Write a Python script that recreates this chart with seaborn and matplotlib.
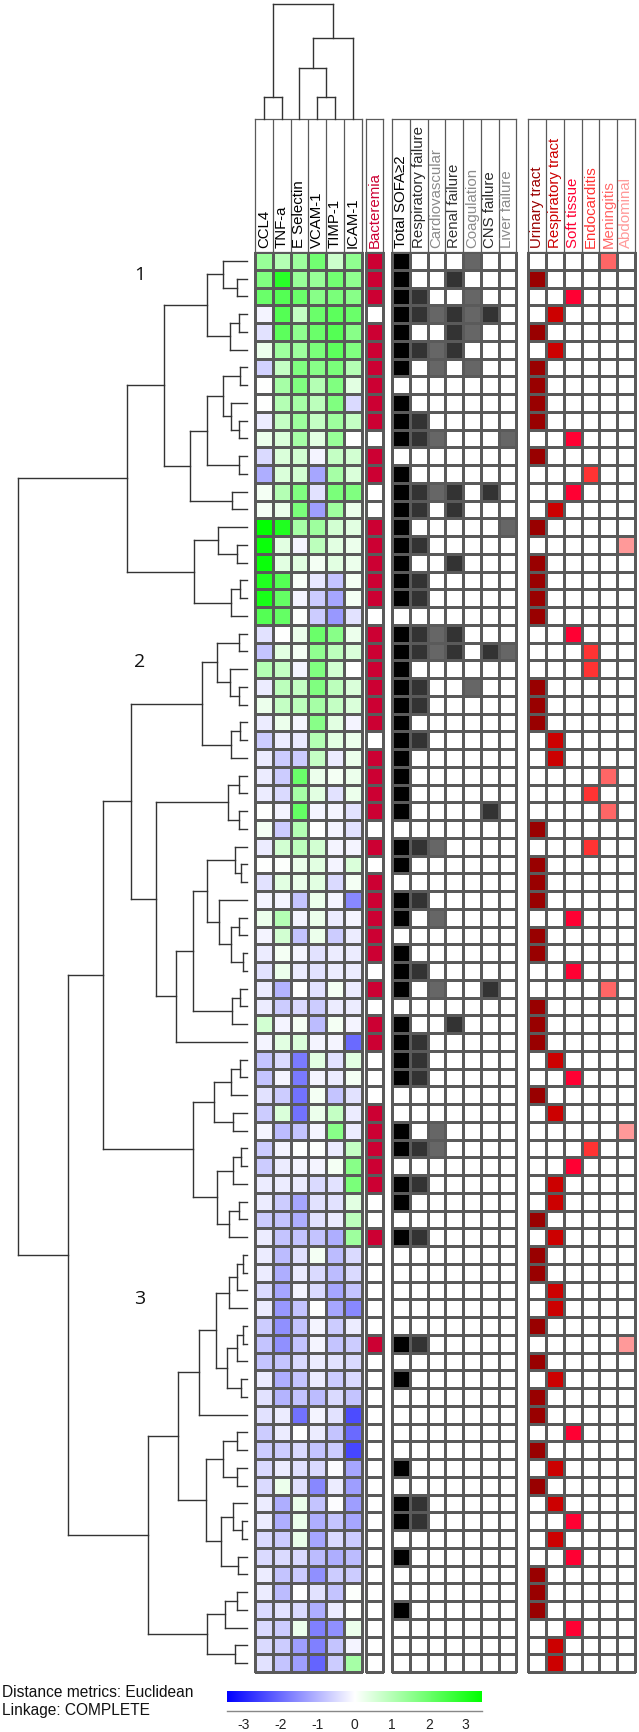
import numpy as np
import pandas as pd
import matplotlib
matplotlib.use("Agg")
import matplotlib.pyplot as plt
import seaborn as sns
from matplotlib.colors import LinearSegmentedColormap, ListedColormap

sns.set_style("white")
plt.rcParams['font.family'] = ['Liberation Sans', 'DejaVu Sans']
plt.rcParams['axes.unicode_minus'] = False

# ---------------- data ----------------
markers = ["CCL4", "TNF-a", "E Selectin", "VCAM-1", "TIMP-1", "ICAM-1"]

ccl4 = [1.4, 1.7, 2.0, -0.15, -0.4, 0.25, -0.6, 0.0, 0.0, -0.25,
        0.25, -0.5, -1.1, 0.15, 0.15, 3.4, 3.3, 3.3, 3.0, 3.1,
        2.3, -0.4, -0.8, 1.0, -0.25, 0.25, -0.25, -0.7, -0.25, -0.25,
        -0.25, 0.0, 0.15, -0.25, 0.0, -0.4, -0.15, 0.25, -0.15, -0.25,
        -0.4, -0.25, -0.25, 0.6, -0.15, -0.8, -0.8, -0.4, -0.7, -0.15,
        -0.7, -0.7, -0.25, -0.25, -0.7, -0.25, -0.25, -0.25, -0.5, -0.25,
        -0.7, -0.8, -0.8, -0.25, -0.4, -0.4, -0.7, -0.7, -0.5, -0.5,
        -0.25, -0.25, -0.5, -0.5, -0.25, -0.25, -0.5, -0.5, -0.5, -0.4]
tnfa = [1.0, 2.9, 2.3, 2.3, 2.2, 1.3, 0.8, 1.2, 1.0, 0.8,
        0.5, 0.5, 0.5, 1.0, 0.25, 3.0, 0.4, 0.4, 2.3, 2.1,
        2.1, 0.0, 0.4, 0.8, 0.9, 0.8, 0.25, -0.25, -0.7, -0.7,
        -0.5, -0.15, -0.7, 0.6, 0.05, 0.4, -0.15, 1.0, 0.6, 0.15,
        0.25, -1.0, -0.7, -0.15, 0.4, -0.5, -0.15, -0.7, 0.5, -0.9,
        -0.15, -0.25, -0.25, -0.7, -0.8, -0.8, -0.9, -1.1, -1.2, -1.4,
        -1.5, -1.5, -0.8, -1.1, -1.0, -0.25, -0.25, -0.7, -0.25, 0.25,
        -1.1, -1.1, -0.7, -0.5, -0.8, -0.9, -0.4, -0.7, -0.7, -0.8]
esel = [1.3, 1.4, 2.0, 0.8, 1.5, 1.3, 1.7, 1.7, 1.2, 1.3,
        1.2, 0.6, 0.6, 1.7, 1.8, 1.2, -0.15, 0.4, 0.1, -0.15,
        0.05, 0.25, 0.15, -0.15, 0.8, 0.9, -0.15, -0.25, -0.7, 2.0,
        1.2, 2.1, 1.0, 0.9, 0.25, 0.25, -0.8, -0.15, -0.8, -0.15,
        -0.25, 0.0, -0.5, 0.15, 0.5, -1.8, -1.8, -1.9, -1.9, -0.8,
        0.0, -0.15, -0.25, -1.2, -1.1, -0.8, -0.4, -0.25, -0.15, -0.8,
        -0.8, -0.8, -0.5, -0.8, -0.8, -1.9, 0.0, -0.5, -0.4, -0.4,
        0.25, 0.25, 0.25, -0.5, -0.7, 0.0, -0.5, 0.25, -1.3, -1.3]
vcam = [1.9, 1.4, 1.6, 2.0, 2.0, 1.8, 1.6, 1.0, 0.9, 0.8,
        0.4, -0.15, -1.2, -0.4, -1.3, 1.3, 0.9, 0.15, -0.3, -0.7,
        -0.7, 2.0, 1.5, 1.7, 1.7, 1.2, 1.6, 1.0, 0.8, 0.25,
        0.4, -0.15, 0.0, 0.6, 0.4, 0.4, 0.25, 0.25, 0.25, -0.4,
        -0.4, -0.4, -0.7, -0.9, -0.15, 0.4, -0.15, 0.15, 0.25, -0.15,
        0.05, -0.15, -0.5, -0.4, -0.4, -0.8, 0.15, -0.5, -0.5, 0.0,
        -0.15, -0.15, -0.25, -0.25, -0.9, -0.15, -0.25, -0.8, -0.5, -1.6,
        -0.8, -1.1, -1.2, -0.9, -1.5, -0.4, -1.1, -1.7, -1.7, -2.1]
timp = [0.7, 1.9, 1.8, 2.2, 2.3, 2.2, 1.8, 1.7, 1.7, 1.3,
        1.4, 0.8, 1.2, 1.8, 1.3, 0.6, 0.4, 0.4, -0.8, -1.2,
        -1.4, 1.6, 0.9, 0.6, 0.9, 0.8, 0.4, 0.4, -0.25, 0.15,
        -0.4, -0.15, -0.15, -0.15, -0.15, -0.5, -0.15, -0.25, -0.7, -0.25,
        -0.25, 0.15, -0.25, 0.15, -0.15, -0.4, -0.25, -0.8, 0.8, 1.6,
        -0.25, 0.15, -0.4, -0.4, -0.25, -1.1, -0.9, -0.9, -1.2, -1.2,
        -0.7, -0.8, -0.4, -0.7, -0.5, -0.4, -0.8, -0.7, -0.05, -0.25,
        -0.05, -0.8, -0.5, -1.1, -0.7, -0.8, -0.25, -1.5, -0.8, -0.7]
icam = [1.5, 1.5, 1.6, 2.0, 1.6, 1.7, 1.0, 0.4, -0.5, 0.8,
        0.0, 0.6, 0.5, 1.7, 0.25, 0.4, 0.25, 0.25, 0.15, 0.15,
        -0.4, 0.25, 0.5, 0.0, 0.5, 0.5, -0.15, 0.25, 0.25, 0.25,
        0.25, -0.4, -0.4, -0.15, 0.5, 0.15, -1.6, -0.15, -0.25, -0.25,
        -0.25, -0.25, -0.25, -0.15, -2.0, 0.4, 0.15, -0.4, -0.25, -0.25,
        0.8, 1.6, 1.8, 0.4, 0.9, 1.3, -0.5, -0.5, -0.8, -1.6,
        -0.25, -0.7, -0.5, -0.5, -0.8, -2.4, -2.0, -2.5, -1.2, -1.3,
        -1.3, -1.2, -0.7, -0.9, -0.7, 0.05, 0.02, 0.25, -0.15, 1.2]

bacteremia = [1, 1, 1, 0, 1, 1, 1, 1, 1, 1, 0, 1, 1, 0, 0, 1, 1, 1, 1, 1,
              0, 1, 1, 1, 1, 1, 1, 0, 1, 1, 1, 1, 0, 1, 0, 1, 1, 1, 1, 1,
              0, 1, 0, 1, 1, 0, 0, 0, 1, 1, 1, 1, 1, 0, 0, 1, 0, 0, 0, 0,
              0, 1, 0, 0, 0, 0, 0, 0, 0, 0, 0, 0, 0, 0, 0, 0, 0, 0, 0, 0]

sofa_labels = ["Total SOFA≥2", "Respiratory failure", "Cardiovascular",
               "Renal failure", "Coagulation", "CNS failure", "Liver failure"]
total_sofa_rows = [0, 1, 2, 3, 4, 5, 6, 8, 9, 10, 12, 13, 14, 15, 16, 17, 18, 19,
                   21, 22, 23, 24, 25, 26, 27, 28, 29, 30, 31, 33, 34, 36, 37, 39,
                   40, 41, 43, 44, 45, 46, 49, 50, 52, 53, 55, 61, 63, 68, 70, 71,
                   73, 76]
resp_failure_rows = [2, 3, 5, 9, 10, 13, 14, 16, 18, 19, 21, 22, 24, 25, 27, 33,
                     36, 40, 44, 45, 46, 50, 52, 55, 61, 70, 71]
cardio_rows = [3, 5, 6, 10, 13, 21, 22, 33, 37, 41, 49, 50]
renal_rows = [1, 3, 4, 5, 13, 14, 17, 21, 22, 43]
coag_rows = [0, 2, 3, 4, 6, 24]
cns_rows = [3, 13, 22, 31, 41]
liver_rows = [10, 15, 22]

site_labels = ["Urinary tract", "Respiratory tract", "Soft tissue",
               "Endocarditis", "Meningitis", "Abdominal"]
infection_site = [4, 0, 2, 1, 0, 1, 0, 0, 0, 0, 2, 0, 3, 2, 1, 0, 5, 0, 0, 0,
                  0, 2, 3, 3, 0, 0, 0, 1, 1, 4, 3, 4, 0, 3, 0, 0, 0, 2, 0, 0,
                  2, 4, 0, 0, 0, 1, 2, 0, 1, 5, 3, 2, 1, 1, 0, 1, 0, 0, 1, 1,
                  0, 5, 0, 1, 0, 0, 2, 0, 1, 0, 1, 2, 1, 2, 0, 0, 0, 2, 1, 1]

cluster_labels = ["1", "2", "3"]
cluster_label_rows = [1.28, 23.1, 58.97]

# dendrogram merges: (node, left, right, distance)
row_merges = [
    ("a", 1, 2, 0.28), ("A1", 0, "a", 0.72), ("b", 3, 4, 0.24), ("A2", "b", 5, 0.50),
    ("A", "A1", "A2", 1.20), ("c", 6, 7, 0.20), ("d", 9, 10, 0.22), ("e", 8, "d", 0.48),
    ("f", "c", "e", 0.72), ("g", 11, 12, 0.24), ("B1", "f", "g", 1.20), ("B2", 13, 14, 0.45),
    ("B", "B1", "B2", 1.70), ("C1", "A", "B", 2.48), ("h", 16, 17, 0.28), ("C2a", 15, "h", 0.85),
    ("i", 18, 19, 0.20), ("C2b", "i", 20, 0.48), ("C2", "C2a", "C2b", 1.58), ("K1", "C1", "C2", 3.58),
    ("j", 21, 22, 0.22), ("k", 24, 25, 0.22), ("l", 23, "k", 0.50), ("D1a", "j", "l", 0.88),
    ("m", 26, 27, 0.20), ("D1b", "m", 28, 0.48), ("D1", "D1a", "D1b", 1.35),
    ("n", 29, 30, 0.22), ("o", 31, 32, 0.22), ("E1", "n", "o", 0.55),
    ("p", 34, 35, 0.16), ("q", 33, "p", 0.34), ("r", 37, 38, 0.24), ("s", 39, 40, 0.12),
    ("t", "r", "s", 0.48), ("u", 36, "t", 0.82), ("v", "q", "u", 1.20), ("w", 41, 42, 0.20),
    ("x", "w", 43, 0.44), ("y", "v", "x", 1.62), ("E2", "y", 44, 2.12), ("E", "E1", "E2", 2.72),
    ("D", "D1", "E", 3.47), ("F1a", 45, 46, 0.20), ("F1b", "F1a", 47, 0.48), ("F1c", 48, 49, 0.42),
    ("F1", "F1b", "F1c", 0.97), ("z1", 50, 51, 0.18), ("z2", "z1", 52, 0.40), ("z3", 53, 54, 0.24),
    ("z4", "z3", 55, 0.52), ("F2", "z2", "z4", 0.90), ("F", "F1", "F2", 1.62), ("K2", "D", "F", 4.30),
    ("g1", 56, 57, 0.10), ("g2", "g1", 58, 0.28), ("g3", "g2", 59, 0.54), ("g4", 60, 61, 0.12),
    ("g5", "g4", 62, 0.30), ("g6", 63, 64, 0.18), ("g7", "g5", "g6", 0.58), ("g8", "g3", "g7", 0.93),
    ("G", "g8", 65, 1.42), ("h1", 66, 67, 0.28), ("h2", 68, 69, 0.28), ("h3", "h1", "h2", 0.70),
    ("h4", 71, 72, 0.15), ("h5", 70, "h4", 0.40), ("h6", 73, 74, 0.25), ("h7", "h5", "h6", 0.78),
    ("h8", "h3", "h7", 1.23), ("H1", "G", "h8", 2.07), ("i1", 75, 76, 0.28), ("i2", "i1", 77, 0.65),
    ("i3", 78, 79, 0.35), ("H2", "i2", "i3", 1.20), ("K3", "H1", "H2", 2.95),
    ("K23", "K2", "K3", 5.37), ("root", "K1", "K23", 6.87)]

col_merges = [("ct", 0, 1, 0.67), ("vt", 3, 4, 0.67), ("evt", 2, "vt", 1.52),
              ("evti", "evt", 5, 2.42), ("croot", "ct", "evti", 3.45)]

# ---------------- styles ----------------
bact_color = "#CC0033"
sofa_colors = ["#000000", "#333333", "#666666", "#333333", "#666666", "#333333", "#666666"]
sofa_text_colors = ["#000000", "#2a2a2a", "#8a8a8a", "#333333", "#8a8a8a", "#2a2a2a", "#8a8a8a"]
site_colors = ["#990000", "#CC0000", "#FF0033", "#FF3333", "#FF6666", "#FF9999"]
grid_color = "#5a5a5a"
dendro_color = "#333333"
bio_cmap = LinearSegmentedColormap.from_list("bwg", ["#0000FF", "#FFFFFF", "#00FF00"])
VLIM = 3.45

W, H = 639, 1732
fig = plt.figure(figsize=(W / 100, H / 100), dpi=100)
fig.patch.set_facecolor("white")


def rect(x0, y0, x1, y1):
    return [x0 / W, 1 - y1 / H, (x1 - x0) / W, (y1 - y0) / H]


TOP, BOT, HEAD = 252, 1672, 119
n_rows = len(ccl4)

# ---------------- matrices ----------------
bio_df = pd.DataFrame({"CCL4": ccl4, "TNF-a": tnfa, "E Selectin": esel,
                       "VCAM-1": vcam, "TIMP-1": timp, "ICAM-1": icam})[markers]
bact_df = pd.DataFrame({"Bacteremia": bacteremia})
sofa_lists = [total_sofa_rows, resp_failure_rows, cardio_rows, renal_rows,
              coag_rows, cns_rows, liver_rows]
sofa_mat = np.zeros((n_rows, len(sofa_labels)))
for k, rows in enumerate(sofa_lists):
    sofa_mat[rows, k] = k + 1
sofa_df = pd.DataFrame(sofa_mat, columns=sofa_labels)
site_mat = np.zeros((n_rows, len(site_labels)))
for r, s in enumerate(infection_site):
    site_mat[r, s] = s + 1
site_df = pd.DataFrame(site_mat, columns=site_labels)

blocks = [
    (bio_df, (255, 361.7), dict(cmap=bio_cmap, vmin=-VLIM, vmax=VLIM),
     markers, ["#000000"] * 6),
    (bact_df, (365.7, 383.3), dict(cmap=ListedColormap(["white", bact_color]), vmin=-0.5, vmax=1.5),
     ["Bacteremia"], [bact_color]),
    (sofa_df, (392.3, 516.2), dict(cmap=ListedColormap(["white"] + sofa_colors), vmin=-0.5, vmax=7.5),
     sofa_labels, sofa_text_colors),
    (site_df, (528.3, 635.0), dict(cmap=ListedColormap(["white"] + site_colors), vmin=-0.5, vmax=6.5),
     site_labels, site_colors),
]

bio_ax = None
for df, (x0, x1), kw, labels, tcolors in blocks:
    ax = fig.add_axes(rect(x0, TOP, x1, BOT))
    sns.heatmap(df, ax=ax, cbar=False, linewidths=0.9, linecolor=grid_color,
                xticklabels=False, yticklabels=False, **kw)
    ax.collections[0].set_clip_on(False)
    ax.set_xlabel("")
    ax.set_ylabel("")
    for sp in ax.spines.values():
        sp.set_visible(True)
        sp.set_color(grid_color)
        sp.set_linewidth(0.9)
    if bio_ax is None:
        bio_ax = ax
    # header box with labels
    hx = fig.add_axes(rect(x0, HEAD, x1, TOP))
    n = df.shape[1]
    hx.set_xlim(0, n)
    hx.set_ylim(0, 1)
    hx.set_xticks([])
    hx.set_yticks([])
    for sp in hx.spines.values():
        sp.set_visible(True)
        sp.set_color(grid_color)
        sp.set_linewidth(0.9)
    for c in range(1, n):
        hx.axvline(c, color=grid_color, lw=0.9)
    for c, (lab, col) in enumerate(zip(labels, tcolors)):
        hx.text(c + 0.5, 0.03, lab, rotation=90, ha="center", va="bottom",
                fontsize=10.8, color=col)


def dendro_segments(merges):
    pos, hgt, segs = {}, {}, []
    for name, l, r, h in merges:
        for ch in (l, r):
            if not isinstance(ch, str):
                pos[ch], hgt[ch] = ch + 0.5, 0.0
        segs.append(((hgt[l], h), (pos[l], pos[l])))
        segs.append(((h, h), (pos[l], pos[r])))
        segs.append(((hgt[r], h), (pos[r], pos[r])))
        pos[name] = (pos[l] + pos[r]) / 2
        hgt[name] = h
    return segs


# left (row) dendrogram
ax_d = fig.add_axes(rect(0, TOP, 246.7, BOT))
ax_d.set_xlim(7.40, 0)
ax_d.set_ylim(n_rows, 0)
ax_d.axis("off")
for hs, ps in dendro_segments(row_merges):
    ax_d.plot(hs, ps, color=dendro_color, lw=1.0, clip_on=False, solid_capstyle="projecting")
for lab, rr in zip(cluster_labels, cluster_label_rows):
    ax_d.text(3.2, rr, lab, fontsize=14, ha="center", va="center",
              family=["Open Sans", "DejaVu Sans"], color="#111111")

# top (column) dendrogram
ax_t = fig.add_axes(rect(255, 0, 361.7, HEAD))
ax_t.set_xlim(0, len(markers))
ax_t.set_ylim(0, 3.57)
ax_t.axis("off")
for hs, ps in dendro_segments(col_merges):
    ax_t.plot(ps, hs, color=dendro_color, lw=1.0, clip_on=False, solid_capstyle="projecting")

# colour bar
cax = fig.add_axes(rect(226.9, 1690.7, 482.4, 1702.3))
cb = fig.colorbar(bio_ax.collections[0], cax=cax, orientation="horizontal")
cb.outline.set_visible(False)
cb.set_ticks([])
tax = fig.add_axes(rect(226.9, 1704.5, 482.4, 1710.7))
tax.set_xlim(-VLIM, VLIM)
tax.set_ylim(0, 1)
tax.patch.set_alpha(0)
for side in ("top", "left", "right"):
    tax.spines[side].set_visible(False)
tax.spines["bottom"].set_color("#888888")
tax.spines["bottom"].set_linewidth(1.0)
tax.set_yticks([])
tax.set_xticks(range(-3, 4))
tax.tick_params(axis="x", direction="in", length=4, color="#888888",
                labelsize=10, pad=5, labelcolor="#222222")

fig.text(2 / W, 1 - 1692.7 / H, "Distance metrics: Euclidean", fontsize=11.2,
         ha="left", va="center", color="#111111")
fig.text(2 / W, 1 - 1710.7 / H, "Linkage: COMPLETE", fontsize=11.2,
         ha="left", va="center", color="#111111")

fig.savefig("out.png", dpi=100, facecolor="white")
